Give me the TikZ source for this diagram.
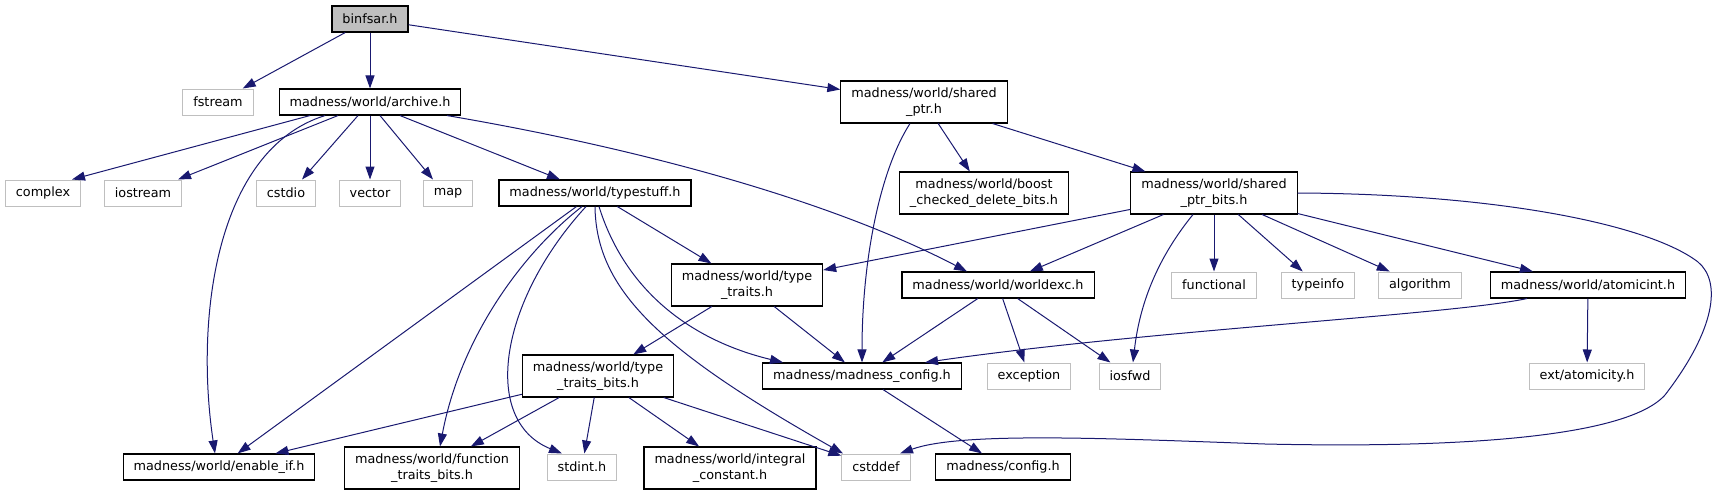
\documentclass[tikz,border=0pt]{standalone}
\usepackage{fontspec}
\setmainfont{DejaVu Sans}
\usetikzlibrary{arrows.meta}
\definecolor{edgeblue}{HTML}{191970}
\definecolor{sysgray}{HTML}{BFBFBF}

\begin{document}
\begin{tikzpicture}[
  x=1pt, y=-1pt,
  hdr/.style={draw=black, line width=1.1pt, fill=white, inner xsep=10.5pt,
              inner ysep=6.6pt, minimum height=26pt, align=center,
              font=\fontsize{12.8}{16}\selectfont},
  sys/.style={hdr, draw=sysgray, line width=1pt},
  root/.style={hdr, fill=sysgray},
  ar/.style={-{Triangle[length=13pt,width=9pt]}, color=edgeblue, line width=1pt}
]
  \useasboundingbox (0,0) rectangle (1715,495);

  \node[root] (binfsar)  at (370,19)  {binfsar.h};
  \node[sys]  (fstream)  at (218,102) {fstream};
  \node[hdr]  (archive)  at (370,102) {madness/world/archive.h};
  \node[hdr]  (shptr)    at (924,102) {madness/world/shared\\\_ptr.h};

  \node[sys]  (complex)   at (43,193)   {complex};
  \node[sys]  (iostream)  at (143,193)  {iostream};
  \node[sys]  (cstdio)    at (286,193)  {cstdio};
  \node[sys]  (vector)    at (370,193)  {vector};
  \node[sys]  (map)       at (448,193)  {map};
  \node[hdr]  (typestuff) at (595,193)  {madness/world/typestuff.h};
  \node[hdr]  (boost)     at (984,193)  {madness/world/boost\\\_checked\_delete\_bits.h};
  \node[hdr]  (shptrbits) at (1214,193) {madness/world/shared\\\_ptr\_bits.h};

  \node[hdr]  (typetraits) at (747,285)  {madness/world/type\\\_traits.h};
  \node[hdr]  (worldexc)   at (998,285)  {madness/world/worldexc.h};
  \node[sys]  (functional) at (1214,285) {functional};
  \node[sys]  (typeinfo)   at (1318,285) {typeinfo};
  \node[sys]  (algorithm)  at (1420,285) {algorithm};
  \node[hdr]  (atomicint)  at (1588,285) {madness/world/atomicint.h};

  \node[hdr]  (typetraitsbits) at (598,376)  {madness/world/type\\\_traits\_bits.h};
  \node[hdr]  (mconfig)        at (862,376)  {madness/madness\_config.h};
  \node[sys]  (exception)      at (1029,376) {exception};
  \node[sys]  (iosfwd)         at (1130,376) {iosfwd};
  \node[sys]  (atomicity)      at (1587,376) {ext/atomicity.h};

  \node[hdr]  (enableif)   at (219,467) {madness/world/enable\_if.h};
  \node[hdr]  (functraits) at (432,468) {madness/world/function\\\_traits\_bits.h};
  \node[sys]  (stdint)     at (582,467) {stdint.h};
  \node[hdr]  (integral)   at (730,468) {madness/world/integral\\\_constant.h};
  \node[sys]  (cstddef)    at (876,467) {cstddef};
  \node[hdr]  (config)     at (1003,467) {madness/config.h};

  \draw[ar] (binfsar) -- (fstream);
  \draw[ar] (binfsar) -- (archive);
  \draw[ar] (binfsar) -- (shptr);

  \draw[ar] ([xshift=-60pt]archive.south) -- ([xshift=29pt]complex.north);
  \draw[ar] ([xshift=-32pt]archive.south) -- ([xshift=35pt]iostream.north);
  \draw[ar] ([xshift=-45pt]archive.south) .. controls (215,150) and (195,320) .. ([xshift=-4pt]enableif.north);
  \draw[ar] ([xshift=-12pt]archive.south) -- ([xshift=16pt]cstdio.north);
  \draw[ar] (archive) -- (vector);
  \draw[ar] ([xshift=10pt]archive.south) -- ([xshift=-15pt]map.north);
  \draw[ar] ([xshift=30pt]archive.south) -- ([xshift=-35pt]typestuff.north);
  \draw[ar] ([xshift=77pt]archive.south) .. controls (620,145) and (820,195) .. ([xshift=-31pt]worldexc.north);

  \draw[ar] ([xshift=-14pt]shptr.south) .. controls (880,170) and (862,260) .. (mconfig.north);
  \draw[ar] (shptr) -- (boost);
  \draw[ar] (shptr) -- (shptrbits);

  \draw[ar] (shptrbits) -- (typetraits);
  \draw[ar] (shptrbits) -- (worldexc);
  \draw[ar] ([xshift=-21pt]shptrbits.south) .. controls (1160,255) and (1140,300) .. ([xshift=3pt]iosfwd.north);
  \draw[ar] (shptrbits) -- (functional);
  \draw[ar] (shptrbits) -- (typeinfo);
  \draw[ar] (shptrbits) -- (algorithm);
  \draw[ar] (shptrbits) -- (atomicint);
  \draw[ar] (shptrbits.east) .. controls (1500,194) and (1650,225) .. (1698,262)
    .. controls (1722,282) and (1715,330) .. (1665,395)
    .. controls (1620,445) and (1400,447) .. (1265,444)
    .. controls (1100,438) and (960,432) .. ([xshift=24pt]cstddef.north);

  \draw[ar] (typestuff) -- (enableif);
  \draw[ar] ([xshift=-13pt]typestuff.south) .. controls (520,255) and (460,340) .. ([xshift=8pt]functraits.north);
  \draw[ar] ([xshift=-9pt]typestuff.south) .. controls (500,300) and (480,420) .. ([xshift=-20pt]stdint.north);
  \draw[ar] (typestuff.south) .. controls (596,290) and (660,350) .. ([xshift=-33pt]cstddef.north);
  \draw[ar] ([xshift=4pt]typestuff.south) .. controls (625,290) and (690,340) .. ([xshift=-79pt]mconfig.north);
  \draw[ar] (typestuff) -- (typetraits);

  \draw[ar] (typetraits) -- (typetraitsbits);
  \draw[ar] (typetraits) -- (mconfig);

  \draw[ar] (worldexc) -- (mconfig);
  \draw[ar] (worldexc) -- (exception);
  \draw[ar] (worldexc) -- (iosfwd);

  \draw[ar] ([xshift=-61pt]atomicint.south) .. controls (1450,315) and (1150,330) .. ([xshift=63pt]mconfig.north);
  \draw[ar] (atomicint) -- (atomicity);

  \draw[ar] (typetraitsbits) -- (enableif);
  \draw[ar] (typetraitsbits) -- (functraits);
  \draw[ar] (typetraitsbits) -- (stdint);
  \draw[ar] (typetraitsbits) -- (integral);
  \draw[ar] (typetraitsbits) -- (cstddef);

  \draw[ar] (mconfig) -- (config);
\end{tikzpicture}
\end{document}
